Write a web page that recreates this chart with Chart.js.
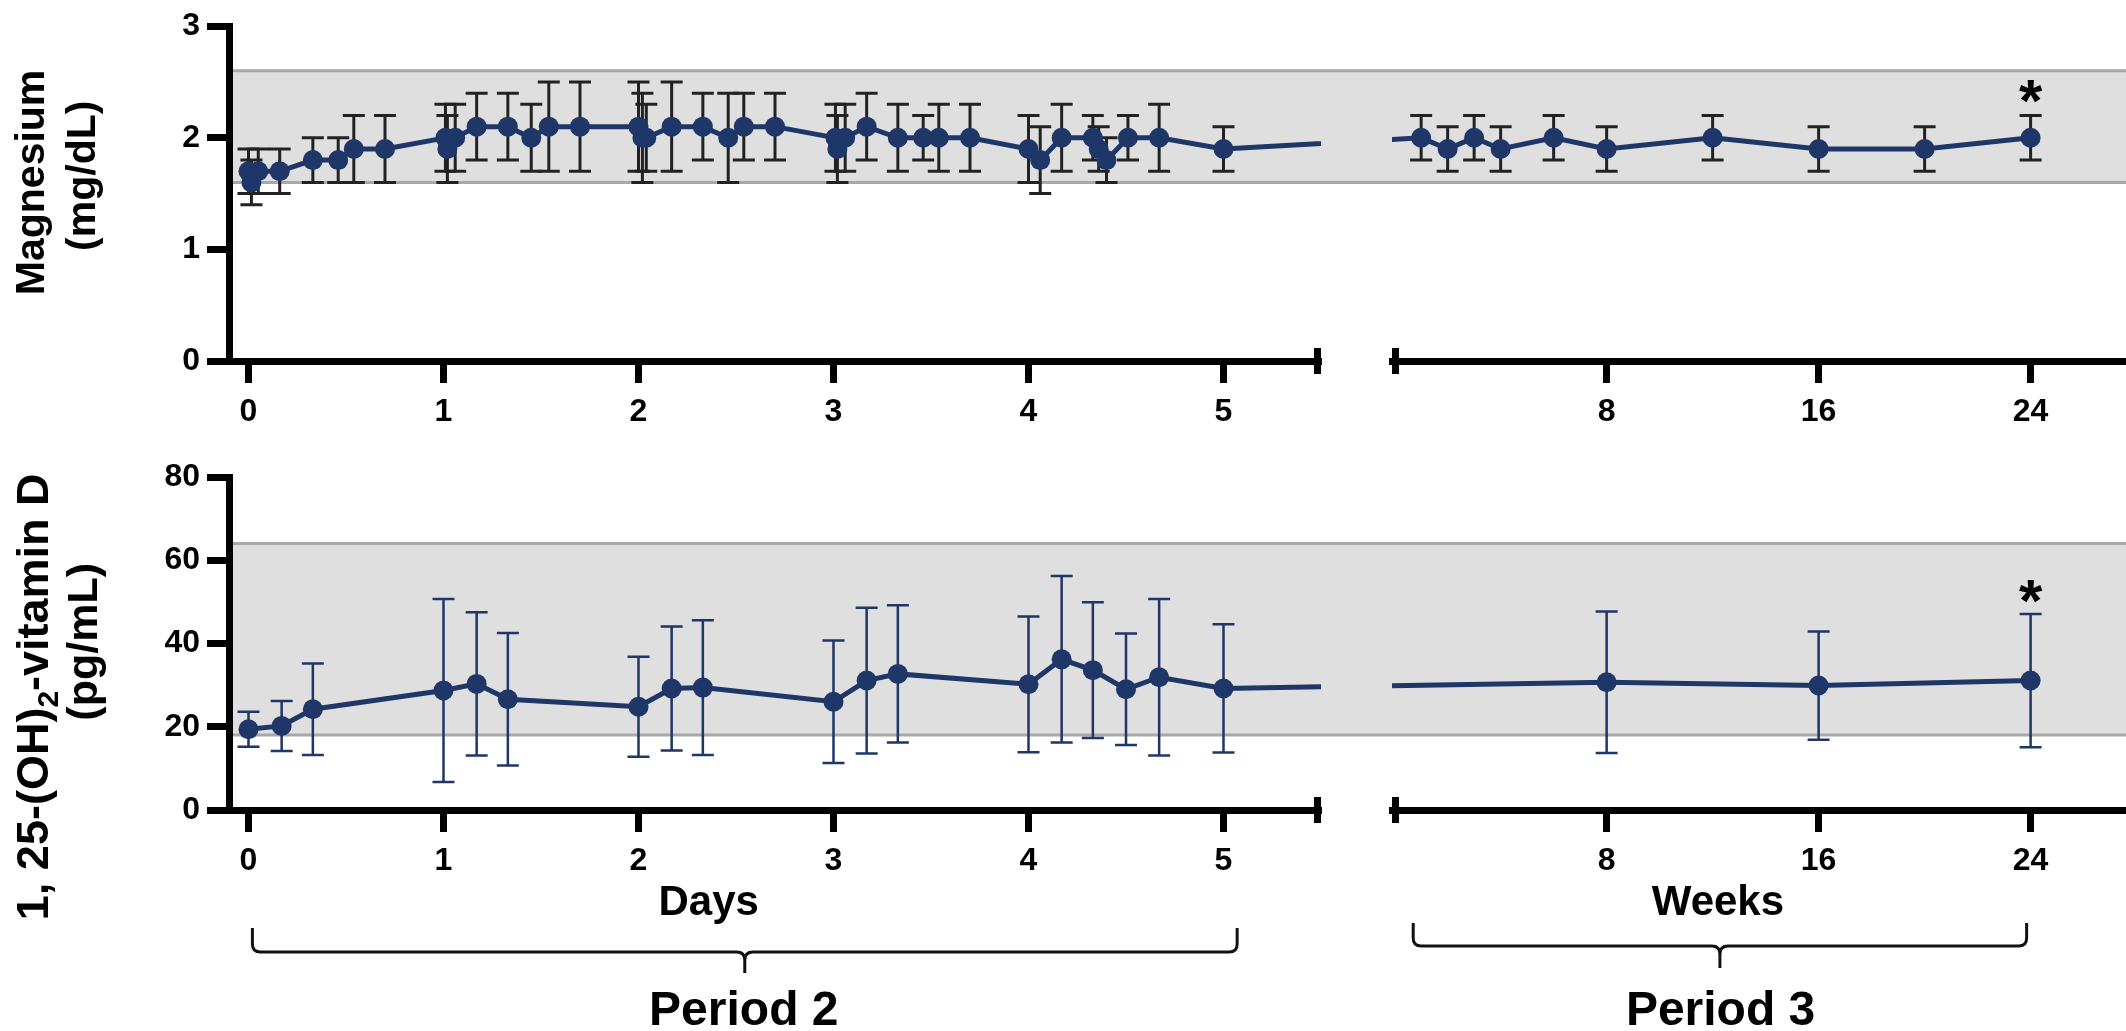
<!DOCTYPE html>
<html>
<head>
<meta charset="utf-8">
<script src="https://cdn.jsdelivr.net/npm/chart.js@4.4.1/dist/chart.umd.min.js"></script>
<style>
  html, body { margin: 0; padding: 0; background: #fff; }
  #quadro { position: relative; width: 2126px; height: 1031px; }
  #graficoMg { position: absolute; left: 0; top: 0; }
  #graficoVitD { position: absolute; left: 0; top: 440px; }
</style>
</head>
<body>
<div id="quadro">
  <canvas id="graficoMg" width="2126" height="440"></canvas>
  <canvas id="graficoVitD" width="2126" height="591"></canvas>
</div>
<script>
// Magnesio - periodo 2 (dias) e periodo 3 (semanas)
const diasMg = [0, 0.015, 0.05, 0.16, 0.33, 0.46, 0.54, 0.7,
    1.01, 1.02, 1.06, 1.17, 1.33, 1.45, 1.54, 1.7,
    2.0, 2.02, 2.04, 2.17, 2.33, 2.46, 2.54, 2.7,
    3.01, 3.02, 3.06, 3.17, 3.33, 3.46, 3.54, 3.7,
    4.0, 4.06, 4.17, 4.33, 4.36, 4.4, 4.51, 4.67,
    5.0];
const valoresMgDias = [1.7, 1.6, 1.7, 1.7, 1.8, 1.8, 1.9, 1.9,
    2.0, 1.9, 2.0, 2.1, 2.1, 2.0, 2.1, 2.1,
    2.1, 2.0, 2.0, 2.1, 2.1, 2.0, 2.1, 2.1,
    2.0, 1.9, 2.0, 2.1, 2.0, 2.0, 2.0, 2.0,
    1.9, 1.8, 2.0, 2.0, 1.9, 1.8, 2.0, 2.0,
    1.9];
const erroMgDias = [0.2, 0.2, 0.2, 0.2, 0.2, 0.2, 0.3, 0.3,
    0.3, 0.3, 0.3, 0.3, 0.3, 0.3, 0.4, 0.4,
    0.4, 0.4, 0.3, 0.4, 0.3, 0.4, 0.3, 0.3,
    0.3, 0.3, 0.3, 0.3, 0.3, 0.2, 0.3, 0.3,
    0.3, 0.3, 0.3, 0.2, 0.2, 0.2, 0.2, 0.3,
    0.2];
const semanasMg = [1, 2, 3, 4, 6, 8, 12, 16, 20, 24];
const valoresMgSemanas = [2.0, 1.9, 2.0, 1.9, 2.0, 1.9, 2.0, 1.9, 1.9, 2.0];
const erroMgSemanas = [0.2, 0.2, 0.2, 0.2, 0.2, 0.2, 0.2, 0.2, 0.2, 0.2];

// 1,25-(OH)2-vitamina D
const diasVitD = [0, 0.17, 0.33, 1, 1.17, 1.33, 2, 2.17, 2.33, 3, 3.17, 3.33, 4, 4.17, 4.33, 4.5, 4.67, 5];
const valoresVitDDias = [19.4, 20.2, 24.2, 28.7, 30.3, 26.6, 24.8, 29.2, 29.4, 26.0, 31.1, 32.7, 30.2, 36.2, 33.6, 29.0, 31.9, 29.2];
const erroVitDDias = [4.2, 6.0, 11.0, 22.0, 17.2, 15.9, 12.0, 14.9, 16.2, 14.7, 17.5, 16.5, 16.3, 20.0, 16.3, 13.4, 18.8, 15.4];
const semanasVitD = [8, 16, 24];
const valoresVitDSemanas = [30.7, 29.9, 31.1];
const erroVitDSemanas = [17.0, 13.0, 16.0];

const ticksDias = [0, 1, 2, 3, 4, 5];
const ticksSemanas = [8, 16, 24];
const ticksMg = [0, 1, 2, 3];
const ticksVitD = [0, 20, 40, 60, 80];
const faixaMg = [1.6, 2.6];
const faixaVitD = [18, 64];

const fonte = '"Liberation Sans", Arial, Helvetica, sans-serif';
const azul = '#1f3668';

Chart.defaults.font.family = fonte;
Chart.defaults.font.weight = 'bold';
Chart.defaults.color = '#000';

function pontos(xs, ys, erros) {
    return xs.map((x, i) => ({ x: x, y: ys[i], e: erros[i] }));
}

function eixoX(min, max, peso, ticks, altura) {
    return {
        type: 'linear', position: 'bottom', stack: 'tempo', stackWeight: peso,
        min: min, max: max,
        afterBuildTicks: eixo => { eixo.ticks = ticks.map(v => ({ value: v })); },
        afterFit: eixo => { eixo.height = altura; },
        grid: { drawOnChartArea: false, drawTicks: true, tickLength: 22, tickWidth: 7, tickColor: '#000' },
        border: { display: true, color: '#000', width: 7, z: 1 },
        ticks: { padding: 10, autoSkip: false, maxRotation: 0, font: { size: 32 } }
    };
}

function eixoY(min, max, ticks) {
    return {
        type: 'linear', position: 'left', min: min, max: max,
        afterBuildTicks: eixo => { eixo.ticks = ticks.map(v => ({ value: v })); },
        afterFit: eixo => { eixo.width = 229; },
        grid: { drawOnChartArea: false, drawTicks: true, tickLength: 22, tickWidth: 7, tickColor: '#000' },
        border: { display: true, color: '#000', width: 7, z: 1 },
        ticks: { padding: 7, font: { size: 32 } }
    };
}

function serie(dados, eixo, corErro, larguraErro) {
    return {
        data: dados,
        xAxisID: eixo,
        yAxisID: 'y',
        borderColor: azul,
        borderWidth: 5,
        tension: 0,
        pointBackgroundColor: azul,
        pointBorderWidth: 0,
        pointRadius: ctx => (ctx.raw && ctx.raw.ponte) ? 0 : 10,
        corErro: corErro,
        larguraErro: larguraErro
    };
}

function tituloVertical(grafico, linhas) {
    const ctx = grafico.ctx;
    const eixo = grafico.scales.y;
    linhas.forEach(linha => {
        ctx.save();
        let total = 0;
        linha.trechos.forEach(t => {
            ctx.font = 'bold ' + t.tam + 'px ' + fonte;
            total += ctx.measureText(t.texto).width;
        });
        ctx.translate(linha.base, eixo.getPixelForValue(linha.centro));
        ctx.rotate(-Math.PI / 2);
        ctx.fillStyle = '#000';
        ctx.textAlign = 'left';
        ctx.textBaseline = 'alphabetic';
        let x = -total / 2;
        linha.trechos.forEach(t => {
            ctx.font = 'bold ' + t.tam + 'px ' + fonte;
            ctx.fillText(t.texto, x, t.desce || 0);
            x += ctx.measureText(t.texto).width;
        });
        ctx.restore();
    });
}

function chave(ctx, x1, x2, topo, meio, ponta) {
    const xc = (x1 + x2) / 2;
    const r = 8;
    ctx.beginPath();
    ctx.moveTo(x1, topo);
    ctx.lineTo(x1, meio - r);
    ctx.quadraticCurveTo(x1, meio, x1 + r, meio);
    ctx.lineTo(xc - r, meio);
    ctx.quadraticCurveTo(xc, meio, xc, meio + r);
    ctx.lineTo(xc, ponta);
    ctx.moveTo(xc, meio + r);
    ctx.quadraticCurveTo(xc, meio, xc + r, meio);
    ctx.lineTo(x2 - r, meio);
    ctx.quadraticCurveTo(x2, meio, x2, meio - r);
    ctx.lineTo(x2, topo);
    ctx.stroke();
}

const extras = {
    id: 'extras',
    beforeDatasetsDraw(grafico, args, opcoes) {
        const { ctx, chartArea } = grafico;
        const y = grafico.scales.y;
        const topo = y.getPixelForValue(opcoes.faixa[1]);
        const base = y.getPixelForValue(opcoes.faixa[0]);
        ctx.save();
        ctx.fillStyle = '#dfdfdf';
        ctx.fillRect(chartArea.left, topo, grafico.width - chartArea.left, base - topo);
        ctx.strokeStyle = '#a8a8a8';
        ctx.lineWidth = 3;
        ctx.beginPath();
        ctx.moveTo(chartArea.left, topo);
        ctx.lineTo(grafico.width, topo);
        ctx.moveTo(chartArea.left, base);
        ctx.lineTo(grafico.width, base);
        ctx.stroke();

        grafico.data.datasets.forEach((ds, i) => {
            const meta = grafico.getDatasetMeta(i);
            ctx.strokeStyle = ds.corErro;
            ctx.lineWidth = ds.larguraErro;
            meta.data.forEach((ponto, j) => {
                const d = ds.data[j];
                if (d.ponte) return;
                const a = y.getPixelForValue(d.y + d.e);
                const b = y.getPixelForValue(d.y - d.e);
                ctx.beginPath();
                ctx.moveTo(ponto.x, a);
                ctx.lineTo(ponto.x, b);
                ctx.moveTo(ponto.x - 11, a);
                ctx.lineTo(ponto.x + 11, a);
                ctx.moveTo(ponto.x - 11, b);
                ctx.lineTo(ponto.x + 11, b);
                ctx.stroke();
            });
        });
        ctx.restore();
    },
    beforeDatasetDraw(grafico, args) {
        const eixo = args.meta.xScale;
        const ctx = grafico.ctx;
        ctx.save();
        ctx.beginPath();
        ctx.rect(eixo.left, 0, eixo.width, grafico.height);
        ctx.clip();
    },
    afterDatasetDraw(grafico) {
        grafico.ctx.restore();
    },
    afterDraw(grafico, args, opcoes) {
        const { ctx, chartArea } = grafico;
        const { xd, xs, y } = grafico.scales;
        ctx.save();
        ctx.fillStyle = '#000';
        ctx.fillRect(xd.right - 7, chartArea.bottom - 13, 7, 26);
        ctx.fillRect(xs.left, chartArea.bottom - 13, 7, 26);

        // asterisco sobre o ultimo ponto
        const ds = grafico.data.datasets[1];
        const meta = grafico.getDatasetMeta(1);
        const ult = ds.data[ds.data.length - 1];
        const px = meta.data[meta.data.length - 1].x;
        const centro = y.getPixelForValue(ult.y + ult.e) - opcoes.asterisco.folga;
        ctx.font = 'bold ' + opcoes.asterisco.tam + 'px ' + fonte;
        ctx.textAlign = 'center';
        ctx.textBaseline = 'alphabetic';
        const m = ctx.measureText('*');
        ctx.fillText('*', px, centro + (m.actualBoundingBoxAscent - m.actualBoundingBoxDescent) / 2);
        ctx.restore();

        tituloVertical(grafico, opcoes.tituloY);

        if (opcoes.rodape) {
            ctx.save();
            ctx.fillStyle = '#000';
            ctx.strokeStyle = '#111';
            ctx.lineWidth = 3;
            ctx.textAlign = 'center';
            ctx.textBaseline = 'alphabetic';
            opcoes.rodape.textos.forEach(t => {
                ctx.font = 'bold ' + t.tam + 'px ' + fonte;
                ctx.fillText(t.texto, grafico.scales[t.eixo].getPixelForValue(t.valor), chartArea.bottom + t.base);
            });
            opcoes.rodape.chaves.forEach(c => {
                const eixo = grafico.scales[c.eixo];
                chave(ctx, eixo.getPixelForValue(c.de), eixo.getPixelForValue(c.ate),
                    chartArea.bottom + c.topo, chartArea.bottom + c.meio, chartArea.bottom + c.ponta);
            });
            ctx.restore();
        }
    }
};

function criaGrafico(id, dadosDias, dadosSemanas, corErro, larguraErro, eixoVertical, alturaX, margemTopo, opcoesExtras) {
    const grafico = new Chart(document.getElementById(id), {
        type: 'line',
        data: {
            datasets: [
                serie(dadosDias, 'xd', corErro, larguraErro),
                serie(dadosSemanas, 'xs', corErro, larguraErro)
            ]
        },
        options: {
            responsive: false,
            maintainAspectRatio: false,
            devicePixelRatio: 1,
            animation: false,
            events: [],
            layout: { autoPadding: false, padding: { top: margemTopo, left: 0, right: 0, bottom: 0 } },
            scales: {
                xd: eixoX(-0.1, 5.5, 1092, ticksDias, alturaX),
                xvao: { type: 'linear', position: 'bottom', stack: 'tempo', stackWeight: 71, display: false, min: 0, max: 1 },
                xs: eixoX(-0.1, 27.6, 734, ticksSemanas, alturaX),
                y: eixoVertical
            },
            plugins: {
                legend: { display: false },
                tooltip: { enabled: false },
                extras: opcoesExtras
            }
        },
        plugins: [extras]
    });
    ligaPeriodos(grafico);
    return grafico;
}

// linha que atravessa a quebra do eixo entre o dia 5 e a primeira semana
function ligaPeriodos(grafico) {
    const xd = grafico.scales.xd;
    const xs = grafico.scales.xs;
    const dsDias = grafico.data.datasets[0];
    const dsSemanas = grafico.data.datasets[1];
    const ultimo = dsDias.data[dsDias.data.length - 1];
    const primeiro = dsSemanas.data[0];
    dsDias.data.push({ x: xd.getValueForPixel(xs.getPixelForValue(primeiro.x)), y: primeiro.y, e: 0, ponte: true });
    dsSemanas.data.unshift({ x: xs.getValueForPixel(xd.getPixelForValue(ultimo.x)), y: ultimo.y, e: 0, ponte: true });
    grafico.update('none');
}

criaGrafico('graficoMg',
    pontos(diasMg, valoresMgDias, erroMgDias),
    pontos(semanasMg, valoresMgSemanas, erroMgSemanas),
    '#222', 3, eixoY(0, 3, ticksMg), 79, 21,
    {
        faixa: faixaMg,
        asterisco: { tam: 60, folga: 24 },
        tituloY: [
            { base: 44, centro: 1.6, trechos: [{ texto: 'Magnesium', tam: 41 }] },
            { base: 95, centro: 1.66, trechos: [{ texto: '(mg/dL)', tam: 41 }] }
        ]
    });

criaGrafico('graficoVitD',
    pontos(diasVitD, valoresVitDDias, erroVitDDias),
    pontos(semanasVitD, valoresVitDSemanas, erroVitDSemanas),
    azul, 2.5, eixoY(0, 80, ticksVitD), 221, 37,
    {
        faixa: faixaVitD,
        asterisco: { tam: 60, folga: 22 },
        tituloY: [
            { base: 48, centro: 27.2, trechos: [
                { texto: '1, 25-(OH)', tam: 45 },
                { texto: '2', tam: 30, desce: 10 },
                { texto: '-vitamin D', tam: 45 }
            ] },
            { base: 97, centro: 40.4, trechos: [{ texto: '(pg/mL)', tam: 43 }] }
        ],
        rodape: {
            textos: [
                { texto: 'Days', eixo: 'xd', valor: 2.36, base: 105, tam: 42 },
                { texto: 'Weeks', eixo: 'xs', valor: 12.2, base: 105, tam: 42 },
                { texto: 'Period 2', eixo: 'xd', valor: 2.54, base: 215, tam: 48 },
                { texto: 'Period 3', eixo: 'xs', valor: 12.3, base: 215, tam: 48 }
            ],
            chaves: [
                { eixo: 'xd', de: 0.02, ate: 5.07, topo: 118, meio: 142, ponta: 163 },
                { eixo: 'xs', de: 0.7, ate: 23.85, topo: 113, meio: 136, ponta: 158 }
            ]
        }
    });
</script>
</body>
</html>
